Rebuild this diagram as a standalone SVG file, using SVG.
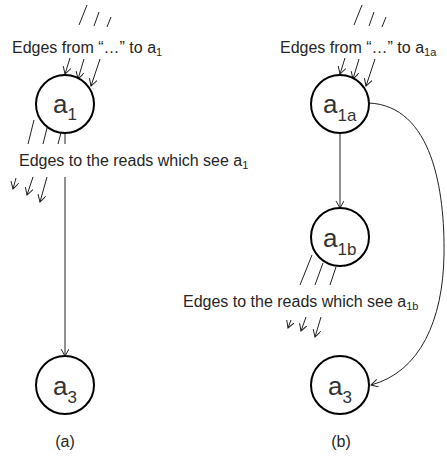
<svg xmlns="http://www.w3.org/2000/svg" width="447" height="459" viewBox="0 0 447 459">
<style>
.node{fill:#fff;stroke:#000;stroke-width:2}
.ln{fill:none;stroke:#222;stroke-width:1}
.lbl{font-family:"Liberation Sans",Arial,sans-serif;font-size:16px;fill:#262626}
.nl{font-family:"Liberation Sans",Arial,sans-serif;font-size:26px;fill:#333}
.sub{font-size:11px}
.nsub{font-size:17px}
</style>
<defs>
<marker id="ah" markerUnits="userSpaceOnUse" markerWidth="10" markerHeight="10" refX="7" refY="4" orient="auto">
<path d="M0,0 L7,4 L0,8" fill="none" stroke="#222" stroke-width="1"/>
</marker>
</defs>
<g id="connectors">
<line class="ln" x1="79" y1="25" x2="87" y2="5"/>
<line class="ln" x1="94" y1="26" x2="99" y2="12"/>
<line class="ln" x1="107" y1="27" x2="111" y2="17"/>
<line class="ln" x1="70" y1="58" x2="65" y2="74" marker-end="url(#ah)"/>
<line class="ln" x1="84" y1="59" x2="78" y2="79" marker-end="url(#ah)"/>
<line class="ln" x1="100" y1="59" x2="91" y2="86" marker-end="url(#ah)"/>
<line class="ln" x1="34" y1="120" x2="28" y2="144"/>
<line class="ln" x1="48" y1="124" x2="43" y2="144"/>
<line class="ln" x1="62" y1="129" x2="58" y2="144"/>
<line class="ln" x1="16" y1="178" x2="13" y2="189" marker-end="url(#ah)"/>
<line class="ln" x1="33" y1="177" x2="27" y2="195" marker-end="url(#ah)"/>
<line class="ln" x1="47" y1="177" x2="40" y2="202" marker-end="url(#ah)"/>
<line class="ln" x1="65" y1="133" x2="65" y2="144"/>
<line class="ln" x1="65" y1="177" x2="65" y2="356" marker-end="url(#ah)"/>
<line class="ln" x1="354" y1="25" x2="362" y2="5"/>
<line class="ln" x1="369" y1="26" x2="374" y2="12"/>
<line class="ln" x1="382" y1="27" x2="386" y2="17"/>
<line class="ln" x1="345" y1="58" x2="340" y2="74" marker-end="url(#ah)"/>
<line class="ln" x1="359" y1="59" x2="353" y2="79" marker-end="url(#ah)"/>
<line class="ln" x1="375" y1="59" x2="366" y2="86" marker-end="url(#ah)"/>
<line class="ln" x1="340" y1="133" x2="340" y2="208" marker-end="url(#ah)"/>
<line class="ln" x1="312" y1="255" x2="300" y2="285"/>
<line class="ln" x1="323" y1="263" x2="315" y2="285"/>
<line class="ln" x1="336" y1="267" x2="330" y2="285"/>
<line class="ln" x1="291" y1="320" x2="288" y2="328" marker-end="url(#ah)"/>
<line class="ln" x1="306" y1="317" x2="301" y2="331" marker-end="url(#ah)"/>
<line class="ln" x1="321" y1="317" x2="315" y2="337" marker-end="url(#ah)"/>
<path class="ln" d="M369,103 C432,106 445,190 444,255 C443,320 420,372 371,385" marker-end="url(#ah)"/>
</g>
<g id="a1">
<circle class="node" cx="65" cy="104" r="29"/>
<text class="nl" x="53" y="113">a<tspan class="nsub" dy="7">1</tspan></text>
</g>
<g id="a3-left">
<circle class="node" cx="65" cy="385" r="29"/>
<text class="nl" x="53" y="395">a<tspan class="nsub" dy="8">3</tspan></text>
</g>
<g id="a1a">
<circle class="node" cx="340" cy="104" r="29"/>
<text class="nl" x="323" y="113">a<tspan class="nsub" dy="8">1a</tspan></text>
</g>
<g id="a1b">
<circle class="node" cx="340" cy="237" r="29"/>
<text class="nl" x="323" y="247">a<tspan class="nsub" dy="8">1b</tspan></text>
</g>
<g id="a3-right">
<circle class="node" cx="340" cy="385" r="29"/>
<text class="nl" x="328" y="395">a<tspan class="nsub" dy="8">3</tspan></text>
</g>
<g id="labels">
<text class="lbl" x="12" y="53">Edges from “…” to a<tspan class="sub" dy="3">1</tspan></text>
<text class="lbl" x="19" y="166">Edges to the reads which see a<tspan class="sub" dy="3">1</tspan></text>
<text class="lbl" x="280" y="53">Edges from “…” to a<tspan class="sub" dy="3">1a</tspan></text>
<text class="lbl" x="183" y="307">Edges to the reads which see  a<tspan class="sub" dy="3">1b</tspan></text>
<text class="lbl" x="65" y="447" text-anchor="middle">(a)</text>
<text class="lbl" x="341" y="447" text-anchor="middle">(b)</text>
</g>
</svg>
